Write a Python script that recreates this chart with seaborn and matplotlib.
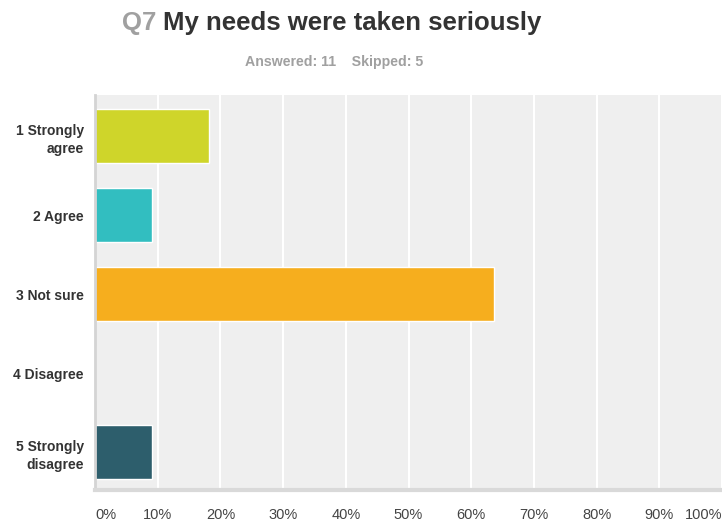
import pandas as pd
import matplotlib
matplotlib.use('Agg')
import matplotlib.pyplot as plt
import seaborn as sns

# survey answers, Q7 (11 answered)
categories = ['1 Strongly\nagree', '2 Agree', '3 Not sure', '4 Disagree', '5 Strongly\ndisagree']
percents = [18.18, 9.09, 63.64, 0.0, 9.09]
bar_colors = ['#cfd52a', '#32bec0', '#f6ae1e', '#6f6f6f', '#2d5e6c']
x_ticks = [0, 10, 20, 30, 40, 50, 60, 70, 80, 90, 100]
x_labels = ['0%', '10%', '20%', '30%', '40%', '50%', '60%', '70%', '80%', '90%', '100%']

sns.set_style('white')
plt.rcParams['font.family'] = ['Liberation Sans', 'DejaVu Sans']

df = pd.DataFrame({'answer': categories, 'pct': percents})

fig = plt.figure(figsize=(7.22, 5.23), dpi=100)
ax = fig.add_axes([95 / 722, 33 / 523, 627 / 722, 395 / 523])
ax.set_facecolor('#efefef')

sns.barplot(data=df, y='answer', x='pct', hue='answer', palette=bar_colors,
            order=categories, hue_order=categories, orient='h',
            width=0.68, legend=False, ax=ax, saturation=1)

ax.set_xlim(0, 100)
ax.set_ylim(4.48, -0.52)
ax.set_xticks(x_ticks)
ax.set_xticklabels(x_labels)
for i, lab in enumerate(ax.get_xticklabels()):
    if i == 0:
        lab.set_ha('left')
    elif i == len(x_ticks) - 1:
        lab.set_ha('right')
ax.grid(axis='x', color='white', linewidth=1.5)
ax.set_axisbelow(True)
ax.set_xlabel('')
ax.set_ylabel('')
ax.tick_params(axis='x', length=0, pad=13, labelsize=10.5, labelcolor='#444444')
ax.tick_params(axis='y', length=0, pad=8, labelsize=10, labelcolor='#333333')
for lab in ax.get_yticklabels():
    lab.set_fontweight('bold')
    lab.set_ha('right')
    lab.set_multialignment('right')
    lab.set_linespacing(1.4)

for side in ['top', 'right']:
    ax.spines[side].set_visible(False)
ax.spines['left'].set_color('#d4d4d4')
ax.spines['left'].set_linewidth(2)
ax.spines['bottom'].set_color('#d9d9d9')
ax.spines['bottom'].set_linewidth(3)

# title in two colours
fig.text(122 / 722, 1 - 23 / 523, 'Q7', fontsize=18.5, fontweight='bold',
         color='#a0a0a0', va='center', ha='left')
fig.text(163 / 722, 1 - 23 / 523, 'My needs were taken seriously', fontsize=18.5,
         fontweight='bold', color='#333333', va='center', ha='left')
fig.text(334 / 722, 1 - 62 / 523, 'Answered: 11    Skipped: 5', fontsize=10.2,
         fontweight='bold', color='#a0a0a0', va='center', ha='center')

fig.savefig('out.png', dpi=100)
